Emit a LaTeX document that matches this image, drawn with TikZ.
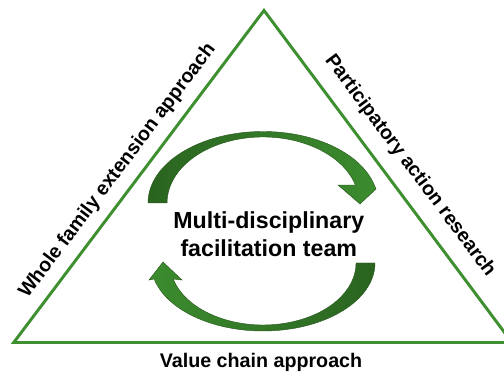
\documentclass[tikz,border=0pt]{standalone}
\usepackage{fontspec}
\setmainfont{Liberation Sans}
\definecolor{lineGreen}{RGB}{62,143,48}
\definecolor{arrowDark}{RGB}{42,100,32}
\definecolor{arrowLight}{RGB}{60,140,46}
\tikzset{
  side/.style={font=\bfseries\fontsize{14}{17}\selectfont},
  band/.style={draw=arrowDark!85!black,line width=0.3pt}
}
\begin{document}
\begin{tikzpicture}
\useasboundingbox (0,0) rectangle (12.6,9.4);
\coordinate (apex) at (6.6,9.14);
\coordinate (bl) at (0.343,0.8375);
\coordinate (br) at (12.8,0.8375);
\draw[lineGreen,line width=2.1pt] (bl) -- (apex) -- (br) -- cycle;

\node[side,rotate=53] (whole) at (2.94,5.125) {Whole family extension approach};
\node[side,rotate=-53.2] (action) at (10.25,5.25) {Participatory action research};
\node[side] (chain) at (6.525,0.33) {Value chain approach};

% upper arrow, left to right
\draw[band,left color=arrowDark,right color=arrowLight] (3.7,4.325)
  arc[start angle=180,end angle=14.6,x radius=2.875cm,y radius=1.7875cm]
  -- (9.4,4.675) -- (9.0,4.3) -- (8.45,4.775) -- (8.885,4.775)
  arc[start angle=15.8,end angle=180,x radius=2.4cm,y radius=1.65cm] -- cycle;
% lower arrow, right to left
\draw[band,left color=arrowLight,right color=arrowDark] (9.375,2.825)
  arc[start angle=0,end angle=-166.4,x radius=2.8cm,y radius=1.7cm]
  -- (3.725,2.4) -- (4.075,2.85) -- (4.55,2.4) -- (4.33,2.425)
  arc[start angle=-165.04,end angle=0,x radius=2.325cm,y radius=1.55cm] -- cycle;

\node[font=\bfseries\fontsize{16.5}{20}\selectfont,align=center] (team) at (6.72,3.55) {Multi-disciplinary\\facilitation team};
\end{tikzpicture}
\end{document}
